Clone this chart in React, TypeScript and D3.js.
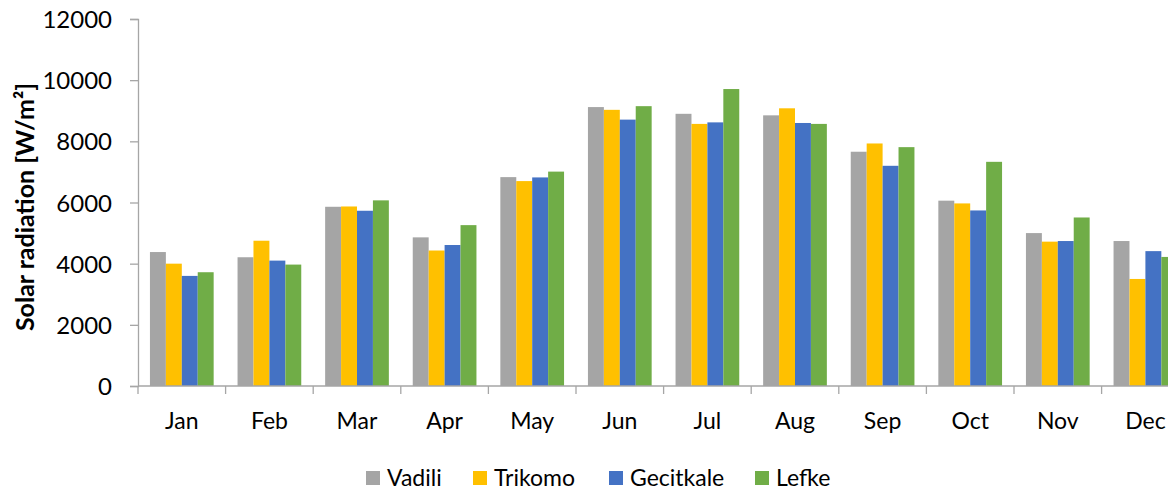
import React, { useEffect, useRef } from 'react';
import * as d3 from 'd3';

const months = ['Jan', 'Feb', 'Mar', 'Apr', 'May', 'Jun', 'Jul', 'Aug', 'Sep', 'Oct', 'Nov', 'Dec'];
const seriesNames = ['Vadili', 'Trikomo', 'Gecitkale', 'Lefke'];
const vadili = [4380, 4210, 5860, 4860, 6830, 9120, 8900, 8850, 7660, 6060, 5000, 4740];
const trikomo = [4000, 4750, 5870, 4430, 6700, 9030, 8570, 9080, 7930, 5970, 4720, 3500];
const gecitkale = [3600, 4100, 5730, 4610, 6820, 8710, 8620, 8600, 7200, 5740, 4740, 4410];
const lefke = [3720, 3970, 6070, 5260, 7010, 9150, 9710, 8570, 7810, 7330, 5510, 4220];
const yTicks = [0, 2000, 4000, 6000, 8000, 10000, 12000];
const colors = ['#a5a5a5', '#ffc000', '#4472c4', '#70ad47'];

const App = () => {
  const svgRef = useRef<SVGSVGElement>(null);

  useEffect(() => {
    const width = 1175, height = 490;
    const margin = { top: 19, left: 138, bottom: 104 };
    const bandW = 87.6;
    const clipRight = 1168;
    const svg = d3.select(svgRef.current);
    svg.selectAll('*').remove();
    svg.attr('width', width).attr('height', height);

    const font = 'Lato, "Open Sans", sans-serif';

    const x0 = d3.scaleBand()
      .domain(months)
      .range([margin.left, margin.left + bandW * months.length])
      .paddingInner(0)
      .paddingOuter(0);

    // gap width 150% like excel
    const barW = x0.bandwidth() / 5.5;
    const x1 = d3.scaleBand()
      .domain(seriesNames)
      .range([barW * 0.75, barW * 4.75]);

    const y = d3.scaleLinear()
      .domain([0, 12000])
      .range([height - margin.bottom, margin.top]);

    svg.append('defs').append('clipPath').attr('id', 'clip')
      .append('rect').attr('x', 0).attr('y', 0).attr('width', clipRight).attr('height', height);

    const g = svg.append('g').attr('clip-path', 'url(#clip)');

    const data = [vadili, trikomo, gecitkale, lefke];

    const groups = g.selectAll('g.month')
      .data(months)
      .enter().append('g')
      .attr('class', 'month')
      .attr('transform', d => `translate(${x0(d)},0)`);

    groups.selectAll('rect')
      .data((_, i) => seriesNames.map((s, k) => ({ s, k, v: data[k][i] })))
      .enter().append('rect')
      .attr('x', d => x1(d.s)!)
      .attr('y', d => y(d.v))
      .attr('width', x1.bandwidth())
      .attr('height', d => y(0) - y(d.v))
      .attr('fill', d => colors[d.k]);

    const axisColor = '#a6a6a6';

    // y axis
    const yAxis = g.append('g').attr('transform', `translate(${margin.left},0)`)
      .call(d3.axisLeft(y).tickValues(yTicks).tickSize(8).tickFormat(d3.format('d')));
    yAxis.select('.domain').attr('stroke', axisColor).attr('stroke-width', 1.3);
    yAxis.selectAll('.tick line').attr('stroke', axisColor).attr('stroke-width', 1.3);
    yAxis.selectAll('.tick text')
      .attr('x', -26)
      .attr('dy', '0.36em')
      .attr('fill', '#000')
      .style('font-family', font)
      .style('font-size', '24px');

    // x axis line and ticks at band edges
    const xAxisG = g.append('g');
    xAxisG.append('line')
      .attr('x1', margin.left).attr('x2', x0.range()[1])
      .attr('y1', y(0)).attr('y2', y(0))
      .attr('stroke', axisColor).attr('stroke-width', 1.3);
    const edges = months.map(m => x0(m)!).concat([x0.range()[1]]);
    xAxisG.selectAll('line.tk')
      .data(edges)
      .enter().append('line')
      .attr('class', 'tk')
      .attr('x1', d => d).attr('x2', d => d)
      .attr('y1', y(0)).attr('y2', y(0) + 8)
      .attr('stroke', axisColor).attr('stroke-width', 1.3);
    xAxisG.selectAll('text')
      .data(months)
      .enter().append('text')
      .attr('x', d => x0(d)! + x0.bandwidth() / 2)
      .attr('y', 429)
      .attr('text-anchor', 'middle')
      .style('font-family', font)
      .style('font-size', '23px')
      .text(d => d);

    // y title
    svg.append('text')
      .attr('transform', `translate(34,207) rotate(-90)`)
      .attr('text-anchor', 'middle')
      .style('font-family', font)
      .style('font-size', '25px')
      .style('font-weight', 'bold')
      .text('Solar radiation [W/m²]');

    // legend
    const legendX = [366, 473, 609, 755];
    const leg = svg.append('g');
    const items = leg.selectAll('g')
      .data(seriesNames)
      .enter().append('g')
      .attr('transform', (_, i) => `translate(${legendX[i]},471)`);
    items.append('rect')
      .attr('width', 14).attr('height', 14)
      .attr('fill', (_, i) => colors[i]);
    items.append('text')
      .attr('x', 21).attr('y', 15)
      .style('font-family', font)
      .style('font-size', '23px')
      .text(d => d);
  }, []);

  return (
    <div style={{ position: 'absolute', left: 0, top: 0 }}>
      <svg ref={svgRef} style={{ display: 'block' }}></svg>
    </div>
  );
};

export default App;
